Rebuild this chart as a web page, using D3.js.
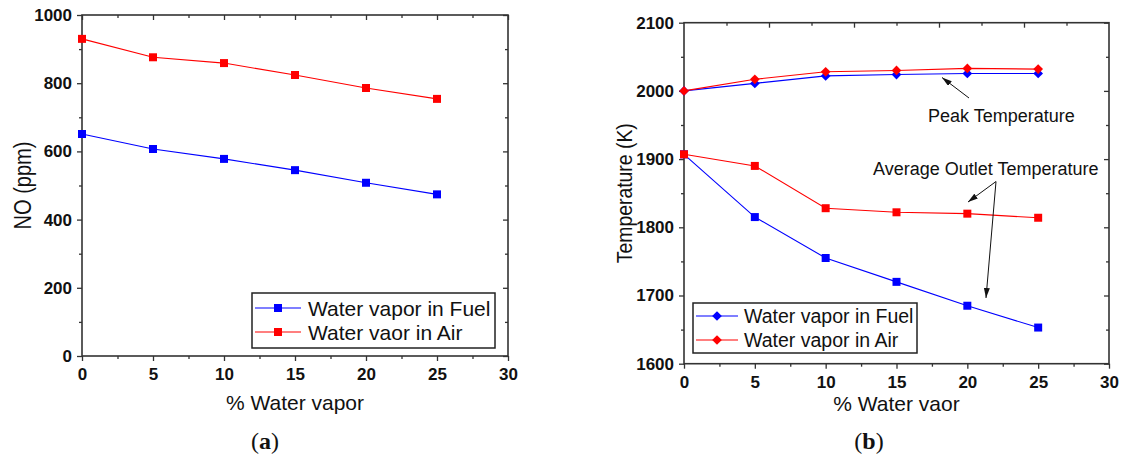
<!DOCTYPE html>
<html>
<head>
<meta charset="utf-8">
<script src="https://cdn.jsdelivr.net/npm/d3@7"></script>
<style>
  html, body { margin: 0; padding: 0; background: #fff; }
  svg { display: block; }
  text { font-family: "Liberation Sans", Arial, sans-serif; fill: #111; }
  .tick text { font-family: "Liberation Sans", Arial, sans-serif; font-weight: 700; font-size: 17px; fill: #111; }
</style>
</head>
<body>
<svg id="chart" width="1123" height="457"></svg>
<script>
// Water vapour fraction (%) at which each case was computed
const waterVapor = [0, 5, 10, 15, 20, 25];

// (a) NO emission, ppm
const noFuel = [651, 607, 578, 545, 508, 474];
const noAir  = [930, 876, 859, 824, 786, 754];

// (b) Temperatures, K
const peakFuel   = [2000, 2011, 2022, 2024, 2025.5, 2025.5];
const peakAir    = [2000, 2017, 2028, 2030, 2033, 2032];
const outletFuel = [1907, 1815, 1755, 1720, 1685, 1653];
const outletAir  = [1907, 1890, 1828, 1822, 1820, 1814];

// Axis ticks
const xTicks = [0, 5, 10, 15, 20, 25, 30];
const xMinor = [2.5, 7.5, 12.5, 17.5, 22.5, 27.5];
const noTicks = [0, 200, 400, 600, 800, 1000];
const noMinor = [100, 300, 500, 700, 900];
const tTicks = [1600, 1700, 1800, 1900, 2000, 2100];
const tMinor = [1650, 1750, 1850, 1950, 2050];
const topMajorB = [6, 12, 18, 24];
const topMinorB = [3, 9, 15, 21, 27];

const BLUE = "#0000ff", RED = "#ff0000", FRAME = "#333";
const fmt = d3.format("d");

const svg = d3.select("#chart");

const defs = svg.append("defs");
defs.append("marker")
  .attr("id", "arrowHead")
  .attr("viewBox", "0 0 10 6")
  .attr("refX", 10).attr("refY", 3)
  .attr("markerWidth", 10).attr("markerHeight", 6)
  .attr("markerUnits", "userSpaceOnUse")
  .attr("orient", "auto")
  .append("path").attr("d", "M0,0 L10,3 L0,6 Z").attr("fill", "#111");

const squareSym = d3.symbol().type(d3.symbolSquare).size(64);
const diamondSym = d3.symbol().type(d3.symbolDiamond2).size(60);

function panel(opts) {
  const g = svg.append("g");
  const x = d3.scaleLinear().domain([0, 30]).range([opts.left, opts.right]);
  const y = d3.scaleLinear().domain(opts.yDomain).range([opts.bottom, opts.top]);

  const styleAxis = sel => {
    sel.select(".domain").remove();
    sel.selectAll(".tick line").attr("stroke", FRAME).attr("stroke-width", 1.3);
  };

  // Outward major + minor ticks on left and bottom
  g.append("g").attr("transform", `translate(${opts.left},0)`)
    .call(d3.axisLeft(y).tickValues(opts.yTicks).tickFormat(fmt).tickSize(5).tickPadding(5).tickSizeOuter(0))
    .call(styleAxis);
  g.append("g").attr("transform", `translate(${opts.left},0)`)
    .call(d3.axisLeft(y).tickValues(opts.yMinor).tickSize(3).tickFormat("").tickSizeOuter(0))
    .call(styleAxis);
  const xb = g.append("g").attr("transform", `translate(0,${opts.bottom})`)
    .call(d3.axisBottom(x).tickValues(xTicks).tickFormat(fmt).tickSize(5).tickSizeOuter(0))
    .call(styleAxis);
  xb.selectAll(".tick text").attr("dy", null).attr("y", opts.xLabelBase);
  g.append("g").attr("transform", `translate(0,${opts.bottom})`)
    .call(d3.axisBottom(x).tickValues(xMinor).tickSize(3).tickFormat("").tickSizeOuter(0))
    .call(styleAxis);

  // Inward mirror ticks on right and top
  g.append("g").attr("transform", `translate(${opts.right},0)`)
    .call(d3.axisRight(y).tickValues(opts.yTicks).tickSize(-5).tickFormat("").tickSizeOuter(0))
    .call(styleAxis);
  g.append("g").attr("transform", `translate(${opts.right},0)`)
    .call(d3.axisRight(y).tickValues(opts.yMinor).tickSize(-3).tickFormat("").tickSizeOuter(0))
    .call(styleAxis);
  g.append("g").attr("transform", `translate(0,${opts.top})`)
    .call(d3.axisTop(x).tickValues(opts.topMajor).tickSize(-5).tickFormat("").tickSizeOuter(0))
    .call(styleAxis);
  g.append("g").attr("transform", `translate(0,${opts.top})`)
    .call(d3.axisTop(x).tickValues(opts.topMinor).tickSize(-3).tickFormat("").tickSizeOuter(0))
    .call(styleAxis);

  // Frame
  g.append("rect")
    .attr("x", opts.left).attr("y", opts.top)
    .attr("width", opts.right - opts.left).attr("height", opts.bottom - opts.top)
    .attr("fill", "none").attr("stroke", FRAME).attr("stroke-width", 1.6);

  // Series
  const line = d3.line().x((d, i) => x(waterVapor[i])).y(d => y(d));
  opts.series.forEach(s => {
    g.append("path").datum(s.values)
      .attr("d", line).attr("fill", "none")
      .attr("stroke", s.color).attr("stroke-width", 1.1);
    g.selectAll(null).data(s.values).join("path")
      .attr("transform", (d, i) => `translate(${x(waterVapor[i])},${y(d)})`)
      .attr("d", s.symbol).attr("fill", s.color);
  });

  // Axis titles
  g.append("text")
    .attr("x", (opts.left + opts.right) / 2).attr("y", opts.xTitleBase)
    .attr("text-anchor", "middle").style("font-size", "21px")
    .text(opts.xTitle);
  g.append("text")
    .attr("transform", `translate(${opts.yTitleX},${(opts.top + opts.bottom) / 2}) rotate(-90)`)
    .attr("text-anchor", "middle").style("font-size", opts.yTitleSize + "px")
    .attr("textLength", opts.yTitleLen).attr("lengthAdjust", "spacingAndGlyphs")
    .text(opts.yTitle);

  // Legend
  const L = opts.legend;
  g.append("rect")
    .attr("x", L.x).attr("y", L.y).attr("width", L.w).attr("height", L.h)
    .attr("fill", "#fff").attr("stroke", "#222").attr("stroke-width", 1.5);
  L.items.forEach((it, i) => {
    const cy = L.rowY[i];
    g.append("line").attr("x1", L.lineX0).attr("x2", L.lineX1)
      .attr("y1", cy).attr("y2", cy).attr("stroke", it.color).attr("stroke-width", 1.1);
    g.append("path").attr("transform", `translate(${(L.lineX0 + L.lineX1) / 2},${cy})`)
      .attr("d", it.symbol).attr("fill", it.color);
    g.append("text").attr("x", L.textX).attr("y", cy).attr("dy", "0.36em")
      .style("font-size", L.fontSize + "px").text(it.label);
  });

  // Caption
  const cap = g.append("text")
    .attr("x", opts.capX).attr("y", 449).attr("text-anchor", "middle")
    .style("font-family", "'Liberation Serif', 'DejaVu Serif', serif")
    .style("font-size", "24px");
  cap.append("tspan").text("(");
  cap.append("tspan").style("font-weight", "bold").text(opts.capLetter);
  cap.append("tspan").text(")");

  return { g, x, y };
}

// (a) NO
panel({
  left: 82, right: 508, top: 15, bottom: 356,
  yDomain: [0, 1000], yTicks: noTicks, yMinor: noMinor,
  topMajor: xTicks, topMinor: xMinor,
  xLabelBase: 24, xTitleBase: 410, xTitle: "% Water vapor",
  yTitle: "NO (ppm)", yTitleX: 31, yTitleSize: 23, yTitleLen: 88,
  series: [
    { values: noFuel, color: BLUE, symbol: squareSym },
    { values: noAir, color: RED, symbol: squareSym }
  ],
  legend: {
    x: 252, y: 293, w: 243, h: 55, rowY: [308, 332],
    lineX0: 255, lineX1: 301, textX: 308, fontSize: 21,
    items: [
      { label: "Water vapor in Fuel", color: BLUE, symbol: squareSym },
      { label: "Water vaor in Air", color: RED, symbol: squareSym }
    ]
  },
  capX: 265, capLetter: "a"
});

// (b) Temperature
const pb = panel({
  left: 684, right: 1109, top: 22.7, bottom: 363.7,
  yDomain: [1600, 2100], yTicks: tTicks, yMinor: tMinor,
  topMajor: topMajorB, topMinor: topMinorB,
  xLabelBase: 24.5, xTitleBase: 411, xTitle: "% Water vaor",
  yTitle: "Temperature (K)", yTitleX: 632, yTitleSize: 22, yTitleLen: 140,
  series: [
    { values: peakFuel, color: BLUE, symbol: diamondSym },
    { values: peakAir, color: RED, symbol: diamondSym },
    { values: outletFuel, color: BLUE, symbol: squareSym },
    { values: outletAir, color: RED, symbol: squareSym }
  ],
  legend: {
    x: 693, y: 303, w: 224, h: 50, rowY: [316, 340],
    lineX0: 696, lineX1: 738, textX: 744, fontSize: 19.5,
    items: [
      { label: "Water vapor in Fuel", color: BLUE, symbol: diamondSym },
      { label: "Water vapor in Air", color: RED, symbol: diamondSym }
    ]
  },
  capX: 869, capLetter: "b"
});

// Annotations on panel (b)
const ann = pb.g;
ann.append("text").attr("x", 928).attr("y", 121.5).style("font-size", "18px").text("Peak Temperature");
ann.append("text").attr("x", 873).attr("y", 175).style("font-size", "18px").text("Average Outlet Temperature");
const arrows = [
  [969, 98, 942, 77.5],
  [996, 181.5, 968, 202],
  [996, 181.5, 986, 298]
];
arrows.forEach(([x1, y1, x2, y2]) => {
  ann.append("line").attr("x1", x1).attr("y1", y1).attr("x2", x2).attr("y2", y2)
    .attr("stroke", "#111").attr("stroke-width", 1).attr("marker-end", "url(#arrowHead)");
});
</script>
</body>
</html>
